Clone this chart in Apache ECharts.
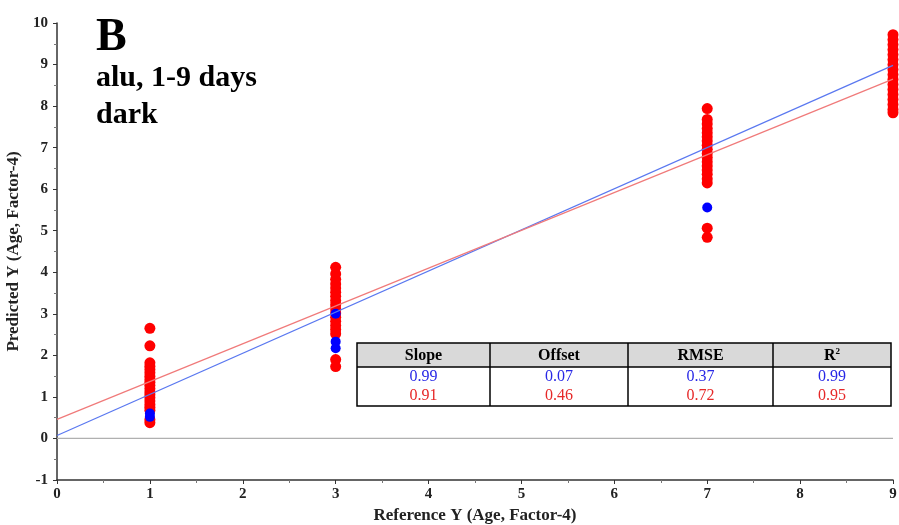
<!DOCTYPE html>
<html><head><meta charset="utf-8">
<script src="https://cdn.jsdelivr.net/npm/echarts@6/dist/echarts.min.js"></script>
<style>html,body{margin:0;padding:0;background:#fff}#c{width:899px;height:525px}</style>
</head><body><div id="c"></div>
<script>
// ---- data ----
const xCats = [1, 3, 7, 9];
const red1 = [2.65, 2.23, 1.82, 1.74, 1.66, 1.58, 1.5, 1.42, 1.35, 1.28, 1.2, 1.12, 1.05, 0.98, 0.9, 0.82, 0.75, 0.68, 0.45, 0.38];
const red3 = [4.12, 3.96, 3.83, 3.72, 3.62, 3.52, 3.42, 3.32, 3.22, 3.12, 3.02, 2.92, 2.82, 2.72, 2.62, 2.52, 1.9, 1.73];
const red7 = [7.94, 7.68, 7.57, 7.46, 7.36, 7.26, 7.16, 7.06, 6.96, 6.86, 6.76, 6.66, 6.56, 6.46, 6.36, 6.25, 6.15, 5.06, 4.84];
const red9 = [9.72, 9.6, 9.48, 9.36, 9.24, 9.12, 9.0, 8.88, 8.76, 8.64, 8.52, 8.4, 8.28, 8.16, 8.04, 7.92, 7.84];
const blue1 = [0.52, 0.6];
const blue3 = [3.0, 2.33, 2.17];
const blue7 = [5.56];
const blueFit = [[0, 0.07], [9, 8.98]];
const redFit = [[0, 0.46], [9, 8.65]];
const xTicks = [0, 1, 2, 3, 4, 5, 6, 7, 8, 9];
const yTicks = [-1, 0, 1, 2, 3, 4, 5, 6, 7, 8, 9, 10];
const tableHead = ['Slope', 'Offset', 'RMSE', 'R2'];
const tableBlue = ['0.99', '0.07', '0.37', '0.99'];
const tableRed = ['0.91', '0.46', '0.72', '0.95'];

function pts(x, arr) { return arr.map(v => [x, v]); }
const redData = [].concat(pts(xCats[0], red1), pts(xCats[1], red3), pts(xCats[2], red7), pts(xCats[3], red9));
const blueData = [].concat(pts(xCats[0], blue1), pts(xCats[1], blue3), pts(xCats[2], blue7));

const serif = '"Liberation Serif","DejaVu Serif",serif';

// ---- table graphic ----
const colX = [357, 490, 628, 773, 891];
const rowY = [343, 367, 386, 406];
const g = [];
g.push({type:'rect', shape:{x:colX[0], y:rowY[0], width:colX[4]-colX[0], height:rowY[1]-rowY[0]}, style:{fill:'#d9d9d9'}, z:10});
g.push({type:'rect', shape:{x:colX[0], y:rowY[0], width:colX[4]-colX[0], height:rowY[3]-rowY[0]}, style:{fill:'none', stroke:'#000', lineWidth:1.5}, z:12});
g.push({type:'line', shape:{x1:colX[0], y1:rowY[1], x2:colX[4], y2:rowY[1]}, style:{stroke:'#000', lineWidth:1.5}, z:12});
for (let i = 1; i < 4; i++) g.push({type:'line', shape:{x1:colX[i], y1:rowY[0], x2:colX[i], y2:rowY[3]}, style:{stroke:'#000', lineWidth:1.5}, z:12});
for (let i = 0; i < 4; i++) {
  const cx = (colX[i] + colX[i+1]) / 2;
  const head = tableHead[i] === 'R2' ? '{n|R}{s|2}' : '{n|' + tableHead[i] + '}';
  g.push({type:'text', x:cx, y:(rowY[0]+rowY[1])/2+1, z:13, style:{text:head, align:'center', verticalAlign:'middle',
    rich:{n:{font:'bold 16px ' + serif, fill:'#000'}, s:{font:'bold 9px ' + serif, fill:'#000', verticalAlign:'top', padding:[0,0,8,0]}}}});
  g.push({type:'text', x:cx, y:(rowY[1]+rowY[2])/2, z:13, style:{text:tableBlue[i], align:'center', verticalAlign:'middle', font:'16px ' + serif, fill:'#2828e6'}});
  g.push({type:'text', x:cx, y:(rowY[2]+rowY[3])/2, z:13, style:{text:tableRed[i], align:'center', verticalAlign:'middle', font:'16px ' + serif, fill:'#e62828'}});
}
g.push({type:'text', x:96, y:38, z:13, style:{text:'B', font:'bold 46px ' + serif, fill:'#000', verticalAlign:'middle'}});
g.push({type:'text', x:96, y:78, z:13, style:{text:'alu, 1-9 days', font:'bold 30px ' + serif, fill:'#000', verticalAlign:'middle'}});
g.push({type:'text', x:96, y:115, z:13, style:{text:'dark', font:'bold 30px ' + serif, fill:'#000', verticalAlign:'middle'}});

const axisCommon = {
  axisLine:{show:true, onZero:false, lineStyle:{color:'#333', width:1.5}},
  axisTick:{show:true, length:4, lineStyle:{color:'#333'}},
  minorTick:{show:true, splitNumber:2, length:3, lineStyle:{color:'#777'}},
  splitLine:{show:false},
  axisLabel:{fontFamily:serif, fontWeight:'bold', fontSize:15, color:'#222'},
  nameTextStyle:{fontFamily:serif, fontWeight:'bold', fontSize:17, color:'#222'}
};

const option = {
  animation:false,
  grid:{left:57, right:6, top:23, bottom:45, containLabel:false, outerBoundsMode:'none'},
  xAxis:Object.assign({}, axisCommon, {type:'value', min:xTicks[0], max:xTicks[xTicks.length-1], interval:1,
    name:'Reference Y (Age, Factor-4)', nameLocation:'middle', nameGap:27,
    axisLabel:Object.assign({}, axisCommon.axisLabel, {margin:7})}),
  yAxis:Object.assign({}, axisCommon, {type:'value', min:yTicks[0], max:yTicks[yTicks.length-1], interval:1,
    name:'Predicted Y (Age, Factor-4)', nameLocation:'middle', nameGap:30,
    axisLabel:Object.assign({}, axisCommon.axisLabel, {margin:9})}),
  graphic:g,
  series:[
    {type:'line', data:[[0,0],[9,0]], symbol:'none', lineStyle:{color:'#b0b0b0', width:1.2}, z:1, silent:true},
    {type:'scatter', data:redData, symbolSize:11, itemStyle:{color:'#ff0000', opacity:1}, z:3, clip:false},
    {type:'scatter', data:blueData, symbolSize:10, itemStyle:{color:'#0000ff', opacity:1}, z:4, clip:false},
    {type:'line', data:blueFit, symbol:'none', lineStyle:{color:'#5a78f0', width:1.2}, z:5},
    {type:'line', data:redFit, symbol:'none', lineStyle:{color:'#f07a7a', width:1.2}, z:5}
  ]
};
echarts.init(document.getElementById('c')).setOption(option);
</script></body></html>
